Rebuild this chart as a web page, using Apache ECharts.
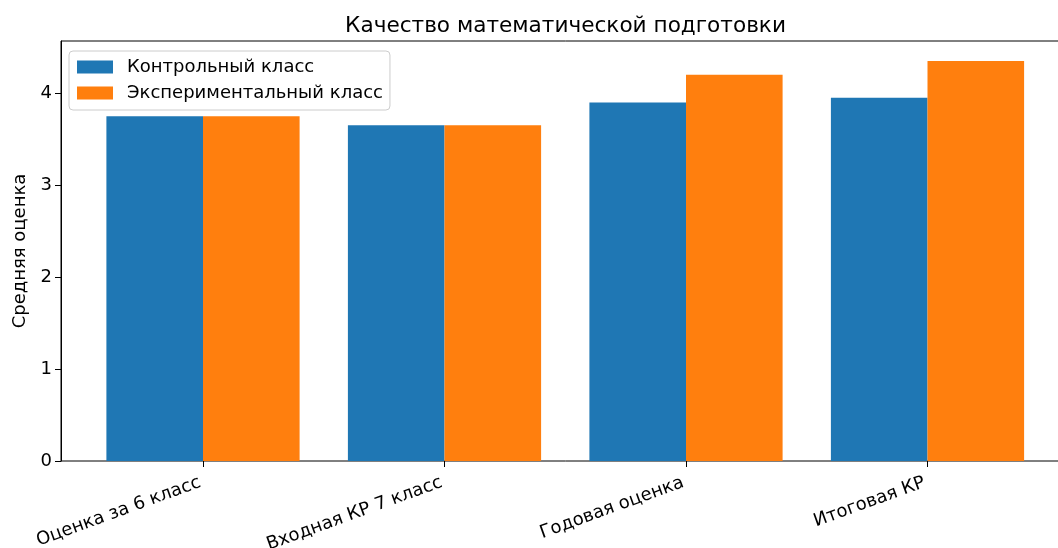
<!DOCTYPE html>
<html><head><meta charset="utf-8">
<script src="https://cdn.jsdelivr.net/npm/echarts@6/dist/echarts.min.js"></script>
<style>html,body{margin:0;padding:0;background:#fff;overflow:hidden;width:1058px;height:548px}#c{width:1074px;height:548px}</style>
</head><body><div id="c"></div>
<script>
const categories = ['Оценка за 6 класс', 'Входная КР 7 класс', 'Годовая оценка', 'Итоговая КР'];
const controlValues = [3.75, 3.65, 3.9, 3.95];
const experimentalValues = [3.75, 3.65, 4.2, 4.35];
const yTicks = [0, 1, 2, 3, 4];
const seriesNames = ['Контрольный класс', 'Экспериментальный класс'];
const yMax = 4.5675;
const font = 'DejaVu Sans';

const chart = echarts.init(document.getElementById('c'), null, {renderer: 'canvas'});
chart.setOption({
  animation: false,
  textStyle: {fontFamily: font},
  title: {
    text: 'Качество математической подготовки',
    left: 560.5, textAlign: 'center', top: 10,
    textStyle: {fontFamily: font, fontSize: 21.6, fontWeight: 'normal', color: '#000'}
  },
  legend: {
    orient: 'vertical', left: 69, top: 51,
    padding: [7, 7, 8, 8], itemGap: 8, itemWidth: 36, itemHeight: 13,
    icon: 'rect',
    borderColor: '#cccccc', borderWidth: 1, borderRadius: 4,
    backgroundColor: 'rgba(255,255,255,0.8)',
    textStyle: {fontFamily: font, fontSize: 18, color: '#000', padding: [0, 0, 0, 9]},
    data: seriesNames
  },
  grid: [
    {left: 61, top: 41, width: 1009, height: 420, show: true, borderColor: '#000', borderWidth: 1, backgroundColor: 'transparent', containLabel: false, outerBoundsMode: 'none'},
    {left: 82.25, top: 41, width: 966, height: 420, containLabel: false, outerBoundsMode: 'none'}
  ],
  xAxis: [
    {gridIndex: 0, type: 'value', min: 0, max: 1, show: false},
    {gridIndex: 1, type: 'category', data: categories,
      axisLine: {show: false},
      axisTick: {show: true, alignWithLabel: true, length: 6, lineStyle: {color: '#000'}},
      axisLabel: {rotate: 20, fontSize: 18, color: '#000', fontFamily: font, margin: 20, interval: 0, padding: [0, 3, 0, 0]},
      splitLine: {show: false}}
  ],
  yAxis: [
    {gridIndex: 0, type: 'value', min: 0, max: yMax,
      name: 'Средняя оценка', nameLocation: 'middle', nameGap: 32, nameRotate: 90,
      nameTextStyle: {fontFamily: font, fontSize: 18, color: '#000'},
      axisLine: {show: true, lineStyle: {color: '#000'}},
      axisTick: {show: true, length: 6, lineStyle: {color: '#000'}, customValues: yTicks},
      axisLabel: {fontSize: 18, color: '#000', fontFamily: font, margin: 9, customValues: yTicks},
      splitLine: {show: false}},
    {gridIndex: 1, type: 'value', min: 0, max: yMax, show: false, splitLine: {show: false}}
  ],
  series: [
    {name: seriesNames[0], type: 'bar', xAxisIndex: 1, yAxisIndex: 1, data: controlValues,
      itemStyle: {color: '#1f77b4'}, barGap: '0%', barCategoryGap: '20%'},
    {name: seriesNames[1], type: 'bar', xAxisIndex: 1, yAxisIndex: 1, data: experimentalValues,
      itemStyle: {color: '#ff7f0e'}, barGap: '0%', barCategoryGap: '20%'}
  ]
});
</script></body></html>
